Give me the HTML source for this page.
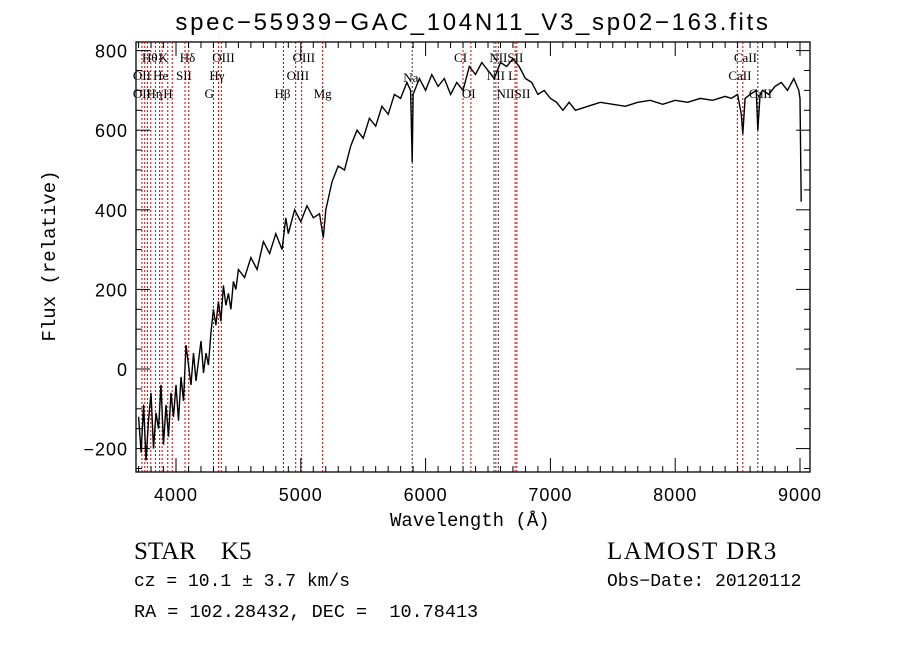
<!DOCTYPE html>
<html><head><meta charset="utf-8"><style>
body{margin:0;background:#fff;width:900px;height:649px;overflow:hidden}
svg{display:block}
.t{font-family:"Liberation Sans",sans-serif}
.s{font-family:"Liberation Serif",serif}
.m{font-family:"Liberation Mono",monospace;white-space:pre}
</style></head><body>
<svg id="chart" width="900" height="649"></svg>
<script>
const wave=[3700,3720,3740,3760,3780,3800,3820,3840,3860,3880,3900,3920,3940,3960,3980,4000,4020,4040,4060,4080,4100,4120,4140,4160,4180,4200,4220,4240,4260,4280,4300,4320,4340,4360,4380,4400,4420,4440,4460,4480,4500,4550,4600,4650,4700,4750,4800,4850,4880,4900,4950,5000,5050,5100,5150,5180,5200,5250,5300,5350,5400,5450,5500,5550,5600,5650,5700,5750,5800,5850,5880,5893,5900,5950,6000,6050,6100,6150,6200,6250,6300,6350,6400,6450,6500,6550,6600,6650,6700,6750,6800,6850,6900,6950,7000,7050,7100,7150,7200,7300,7400,7500,7600,7700,7800,7900,8000,8100,8200,8300,8400,8450,8500,8530,8542,8560,8600,8650,8662,8680,8700,8750,8800,8850,8900,8950,8990,9000,9010];
const flux=[-120,-210,-90,-230,-130,-60,-200,-110,-150,-40,-190,-90,-170,-60,-120,-40,-130,-20,-80,60,10,-40,40,-30,20,70,-10,40,10,90,150,110,170,120,210,160,190,150,220,200,250,230,280,250,320,290,340,300,380,340,400,370,410,380,390,330,400,470,510,500,560,600,580,630,610,660,640,690,680,720,700,520,690,730,700,740,710,730,690,720,700,760,740,770,750,730,770,760,780,760,730,720,690,700,680,670,650,670,650,660,670,665,660,670,675,665,675,670,680,675,685,680,690,640,590,680,690,700,600,690,700,690,710,720,700,730,700,680,420];
const xTicks=[4000,5000,6000,7000,8000,9000];
const yTicks=[-200,0,200,400,600,800];
const lineWaves=[3727,3750,3771,3798,3835,3869,3889,3934,3970,4072,4102,4300,4340,4363,4861,4959,5007,5175,5893,6300,6363,6548,6563,6583,6717,6731,8498,8542,8662];
const lineRed=[1,1,1,1,1,1,1,1,1,1,1,0,1,1,0,1,1,1,0,1,1,0,1,0,1,1,1,1,0];
const labels=[["Hθ",3800,58],["K",3934,58],["Hδ",4102,58],["OIII",4363,58],["OIII",5007,58],["OII",3727,76],["He",3889,76],["SII",4072,76],["Hγ",4340,76],["OIII",4959,76],["Na",5893,78],["CI",6300,58],["NIISII",6583,58],["NII L",6563,76],["OII",3727,94],["Hη",3835,94],["H",3970,94],["G",4300,94],["Hβ",4861,94],["Mg",5175,94],["OI",6363,94],["NIISII",6640,94],["CaII",8542,58],["CaII",8498,76],["CaII",8662,94]];
const L=136,R=810,T=42,B=472;
const x=w=>176+(w-4000)*0.1248;
const y=f=>369-f*0.398;
const svg=document.getElementById('chart');
const NS='http://www.w3.org/2000/svg';
function mk(tag,attrs,txt){const e=document.createElementNS(NS,tag);for(const k in attrs)e.setAttribute(k,attrs[k]);if(txt!==undefined)e.textContent=txt;svg.appendChild(e);return e;}
let fr=mk('rect',{x:L,y:T,width:R-L,height:B-T,fill:'none',stroke:'#000','stroke-width':1.3});


lineWaves.forEach((w,i)=>{
 const l=mk('line',{x1:x(w),x2:x(w),y1:T,y2:B,stroke:lineRed[i]?'#c00000':'#333','stroke-width':1,'stroke-dasharray':'2,2'});
 
 
});
labels.forEach(a=>{
 const t=mk('text',{x:x(a[1])-9,y:a[2]+4,'font-size':13,class:'s'},a[0]);
 
 
});
for(let w=3700;w<=9000;w+=100){
 const maj=w%1000===0, len=maj?14:6;
 mk('line',{x1:x(w),x2:x(w),y1:B,y2:B-len,stroke:'#000'});
 mk('line',{x1:x(w),x2:x(w),y1:T,y2:T+len,stroke:'#000'});
}
for(let f=-250;f<=800;f+=50){
 const maj=f%200===0, len=maj?14:6;
 mk('line',{x1:L,x2:L+len,y1:y(f),y2:y(f),stroke:'#000'});
 mk('line',{x1:R,x2:R-len,y1:y(f),y2:y(f),stroke:'#000'});
}
xTicks.forEach(v=>{const t=mk('text',{x:x(v),y:501,'font-size':18,'text-anchor':'middle',class:'t','letter-spacing':1},v);
 
 });
yTicks.forEach(v=>{const t=mk('text',{x:128,y:y(v)+7,'font-size':18,'text-anchor':'end',class:'t','letter-spacing':1},v===-200?'−200':v);
 
 });
const pts=wave.map((w,i)=>x(w).toFixed(1)+','+y(flux[i]).toFixed(1)).join(' ');
const pl=mk('polyline',{points:pts,fill:'none',stroke:'#000','stroke-width':1.4});


</script>
<div style="position:absolute;left:0;top:0;width:900px;height:649px;pointer-events:none">
<div class="t" style="position:absolute;left:0;width:946px;top:9px;text-align:center;font-size:24px;letter-spacing:2.7px">spec−55939−GAC_104N11_V3_sp02−163.fits</div>
<div class="m" style="position:absolute;left:-45px;top:245px;width:190px;text-align:center;transform:rotate(-90deg);font-size:19px">Flux (relative)</div>
<div class="m" style="position:absolute;left:390px;top:510px;font-size:19px">Wavelength (Å)</div>
<div class="s" style="position:absolute;left:134px;top:538px;font-size:25px">STAR&nbsp;&nbsp;&nbsp;&nbsp;K5</div>
<div class="m" style="position:absolute;left:134px;top:572px;font-size:18px">cz = 10.1 ± 3.7 km/s</div>
<div class="m" style="position:absolute;left:134px;top:602px;font-size:18.5px">RA = 102.28432, DEC =  10.78413</div>
<div class="s" style="position:absolute;left:607px;top:538px;font-size:25px;letter-spacing:1.5px">LAMOST DR3</div>
<div class="m" style="position:absolute;left:607px;top:572px;font-size:18px">Obs−Date: 20120112</div>
</div>
</body></html>
